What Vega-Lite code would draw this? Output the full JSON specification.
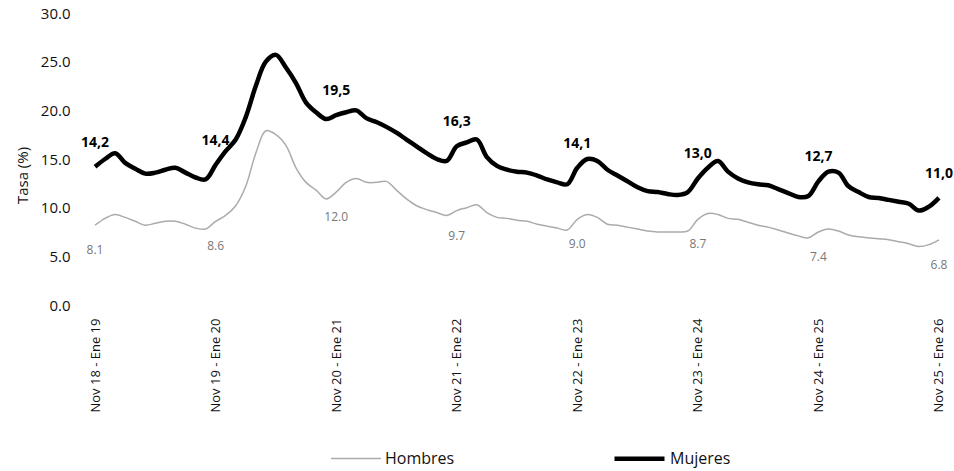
{
"$schema": "https://vega.github.io/schema/vega-lite/v6.json",
"width": 864,
"height": 292,
"autosize": {"type": "none"},
"padding": {"left": 85, "top": 13, "right": 5, "bottom": 166},
"background": "white",
"config": {"view": {"stroke": null}, "font": "Open Sans"},
"data": {"values": [
{"p":"Nov 18 - Ene 19","s":"Hombres","v":8.2,"t":"8.1"},
{"p":"Dic 18 - Feb 19","s":"Hombres","v":8.9},
{"p":"Ene 19 - Mar 19","s":"Hombres","v":9.3},
{"p":"Feb 19 - Abr 19","s":"Hombres","v":9.0},
{"p":"Mar 19 - May 19","s":"Hombres","v":8.6},
{"p":"Abr 19 - Jun 19","s":"Hombres","v":8.2},
{"p":"May 19 - Jul 19","s":"Hombres","v":8.4},
{"p":"Jun 19 - Ago 19","s":"Hombres","v":8.6},
{"p":"Jul 19 - Sep 19","s":"Hombres","v":8.6},
{"p":"Ago 19 - Oct 19","s":"Hombres","v":8.3},
{"p":"Sep 19 - Nov 19","s":"Hombres","v":7.9},
{"p":"Oct 19 - Dic 19","s":"Hombres","v":7.8},
{"p":"Nov 19 - Ene 20","s":"Hombres","v":8.6,"t":"8.6"},
{"p":"Dic 19 - Feb 20","s":"Hombres","v":9.2},
{"p":"Ene 20 - Mar 20","s":"Hombres","v":10.2},
{"p":"Feb 20 - Abr 20","s":"Hombres","v":12.2},
{"p":"Mar 20 - May 20","s":"Hombres","v":15.6},
{"p":"Abr 20 - Jun 20","s":"Hombres","v":17.9},
{"p":"May 20 - Jul 20","s":"Hombres","v":17.5},
{"p":"Jun 20 - Ago 20","s":"Hombres","v":16.4},
{"p":"Jul 20 - Sep 20","s":"Hombres","v":14.1},
{"p":"Ago 20 - Oct 20","s":"Hombres","v":12.6},
{"p":"Sep 20 - Nov 20","s":"Hombres","v":11.8},
{"p":"Oct 20 - Dic 20","s":"Hombres","v":10.9},
{"p":"Nov 20 - Ene 21","s":"Hombres","v":11.6,"t":"12.0"},
{"p":"Dic 20 - Feb 21","s":"Hombres","v":12.6},
{"p":"Ene 21 - Mar 21","s":"Hombres","v":13.0},
{"p":"Feb 21 - Abr 21","s":"Hombres","v":12.6},
{"p":"Mar 21 - May 21","s":"Hombres","v":12.6},
{"p":"Abr 21 - Jun 21","s":"Hombres","v":12.7},
{"p":"May 21 - Jul 21","s":"Hombres","v":11.8},
{"p":"Jun 21 - Ago 21","s":"Hombres","v":10.9},
{"p":"Jul 21 - Sep 21","s":"Hombres","v":10.2},
{"p":"Ago 21 - Oct 21","s":"Hombres","v":9.8},
{"p":"Sep 21 - Nov 21","s":"Hombres","v":9.5},
{"p":"Oct 21 - Dic 21","s":"Hombres","v":9.2},
{"p":"Nov 21 - Ene 22","s":"Hombres","v":9.7,"t":"9.7"},
{"p":"Dic 21 - Feb 22","s":"Hombres","v":10.0},
{"p":"Ene 22 - Mar 22","s":"Hombres","v":10.3},
{"p":"Feb 22 - Abr 22","s":"Hombres","v":9.5},
{"p":"Mar 22 - May 22","s":"Hombres","v":9.0},
{"p":"Abr 22 - Jun 22","s":"Hombres","v":8.9},
{"p":"May 22 - Jul 22","s":"Hombres","v":8.7},
{"p":"Jun 22 - Ago 22","s":"Hombres","v":8.6},
{"p":"Jul 22 - Sep 22","s":"Hombres","v":8.3},
{"p":"Ago 22 - Oct 22","s":"Hombres","v":8.1},
{"p":"Sep 22 - Nov 22","s":"Hombres","v":7.9},
{"p":"Oct 22 - Dic 22","s":"Hombres","v":7.7},
{"p":"Nov 22 - Ene 23","s":"Hombres","v":8.8,"t":"9.0"},
{"p":"Dic 22 - Feb 23","s":"Hombres","v":9.3},
{"p":"Ene 23 - Mar 23","s":"Hombres","v":9.0},
{"p":"Feb 23 - Abr 23","s":"Hombres","v":8.3},
{"p":"Mar 23 - May 23","s":"Hombres","v":8.2},
{"p":"Abr 23 - Jun 23","s":"Hombres","v":8.0},
{"p":"May 23 - Jul 23","s":"Hombres","v":7.8},
{"p":"Jun 23 - Ago 23","s":"Hombres","v":7.6},
{"p":"Jul 23 - Sep 23","s":"Hombres","v":7.5},
{"p":"Ago 23 - Oct 23","s":"Hombres","v":7.5},
{"p":"Sep 23 - Nov 23","s":"Hombres","v":7.5},
{"p":"Oct 23 - Dic 23","s":"Hombres","v":7.6},
{"p":"Nov 23 - Ene 24","s":"Hombres","v":8.8,"t":"8.7"},
{"p":"Dic 23 - Feb 24","s":"Hombres","v":9.4},
{"p":"Ene 24 - Mar 24","s":"Hombres","v":9.3},
{"p":"Feb 24 - Abr 24","s":"Hombres","v":8.9},
{"p":"Mar 24 - May 24","s":"Hombres","v":8.8},
{"p":"Abr 24 - Jun 24","s":"Hombres","v":8.5},
{"p":"May 24 - Jul 24","s":"Hombres","v":8.2},
{"p":"Jun 24 - Ago 24","s":"Hombres","v":8.0},
{"p":"Jul 24 - Sep 24","s":"Hombres","v":7.7},
{"p":"Ago 24 - Oct 24","s":"Hombres","v":7.4},
{"p":"Sep 24 - Nov 24","s":"Hombres","v":7.1},
{"p":"Oct 24 - Dic 24","s":"Hombres","v":6.9},
{"p":"Nov 24 - Ene 25","s":"Hombres","v":7.5,"t":"7.4"},
{"p":"Dic 24 - Feb 25","s":"Hombres","v":7.8},
{"p":"Ene 25 - Mar 25","s":"Hombres","v":7.6},
{"p":"Feb 25 - Abr 25","s":"Hombres","v":7.2},
{"p":"Mar 25 - May 25","s":"Hombres","v":7.0},
{"p":"Abr 25 - Jun 25","s":"Hombres","v":6.9},
{"p":"May 25 - Jul 25","s":"Hombres","v":6.8},
{"p":"Jun 25 - Ago 25","s":"Hombres","v":6.7},
{"p":"Jul 25 - Sep 25","s":"Hombres","v":6.5},
{"p":"Ago 25 - Oct 25","s":"Hombres","v":6.3},
{"p":"Sep 25 - Nov 25","s":"Hombres","v":6.0},
{"p":"Oct 25 - Dic 25","s":"Hombres","v":6.2},
{"p":"Nov 25 - Ene 26","s":"Hombres","v":6.7,"t":"6.8"},
{"p":"Nov 18 - Ene 19","s":"Mujeres","v":14.2,"t":"14,2"},
{"p":"Dic 18 - Feb 19","s":"Mujeres","v":15.0},
{"p":"Ene 19 - Mar 19","s":"Mujeres","v":15.6},
{"p":"Feb 19 - Abr 19","s":"Mujeres","v":14.6},
{"p":"Mar 19 - May 19","s":"Mujeres","v":14.0},
{"p":"Abr 19 - Jun 19","s":"Mujeres","v":13.5},
{"p":"May 19 - Jul 19","s":"Mujeres","v":13.6},
{"p":"Jun 19 - Ago 19","s":"Mujeres","v":13.9},
{"p":"Jul 19 - Sep 19","s":"Mujeres","v":14.1},
{"p":"Ago 19 - Oct 19","s":"Mujeres","v":13.6},
{"p":"Sep 19 - Nov 19","s":"Mujeres","v":13.1},
{"p":"Oct 19 - Dic 19","s":"Mujeres","v":12.9},
{"p":"Nov 19 - Ene 20","s":"Mujeres","v":14.4,"t":"14,4"},
{"p":"Dic 19 - Feb 20","s":"Mujeres","v":15.8},
{"p":"Ene 20 - Mar 20","s":"Mujeres","v":17.0},
{"p":"Feb 20 - Abr 20","s":"Mujeres","v":19.3},
{"p":"Mar 20 - May 20","s":"Mujeres","v":22.5},
{"p":"Abr 20 - Jun 20","s":"Mujeres","v":25.0},
{"p":"May 20 - Jul 20","s":"Mujeres","v":25.7},
{"p":"Jun 20 - Ago 20","s":"Mujeres","v":24.4},
{"p":"Jul 20 - Sep 20","s":"Mujeres","v":22.8},
{"p":"Ago 20 - Oct 20","s":"Mujeres","v":20.8},
{"p":"Sep 20 - Nov 20","s":"Mujeres","v":19.8},
{"p":"Oct 20 - Dic 20","s":"Mujeres","v":19.1},
{"p":"Nov 20 - Ene 21","s":"Mujeres","v":19.5,"t":"19,5"},
{"p":"Dic 20 - Feb 21","s":"Mujeres","v":19.8},
{"p":"Ene 21 - Mar 21","s":"Mujeres","v":20.0},
{"p":"Feb 21 - Abr 21","s":"Mujeres","v":19.2},
{"p":"Mar 21 - May 21","s":"Mujeres","v":18.8},
{"p":"Abr 21 - Jun 21","s":"Mujeres","v":18.3},
{"p":"May 21 - Jul 21","s":"Mujeres","v":17.7},
{"p":"Jun 21 - Ago 21","s":"Mujeres","v":17.0},
{"p":"Jul 21 - Sep 21","s":"Mujeres","v":16.3},
{"p":"Ago 21 - Oct 21","s":"Mujeres","v":15.6},
{"p":"Sep 21 - Nov 21","s":"Mujeres","v":15.0},
{"p":"Oct 21 - Dic 21","s":"Mujeres","v":14.8},
{"p":"Nov 21 - Ene 22","s":"Mujeres","v":16.3,"t":"16,3"},
{"p":"Dic 21 - Feb 22","s":"Mujeres","v":16.7},
{"p":"Ene 22 - Mar 22","s":"Mujeres","v":17.0},
{"p":"Feb 22 - Abr 22","s":"Mujeres","v":15.2},
{"p":"Mar 22 - May 22","s":"Mujeres","v":14.3},
{"p":"Abr 22 - Jun 22","s":"Mujeres","v":13.9},
{"p":"May 22 - Jul 22","s":"Mujeres","v":13.7},
{"p":"Jun 22 - Ago 22","s":"Mujeres","v":13.6},
{"p":"Jul 22 - Sep 22","s":"Mujeres","v":13.3},
{"p":"Ago 22 - Oct 22","s":"Mujeres","v":12.9},
{"p":"Sep 22 - Nov 22","s":"Mujeres","v":12.6},
{"p":"Oct 22 - Dic 22","s":"Mujeres","v":12.4},
{"p":"Nov 22 - Ene 23","s":"Mujeres","v":14.1,"t":"14,1"},
{"p":"Dic 22 - Feb 23","s":"Mujeres","v":15.0},
{"p":"Ene 23 - Mar 23","s":"Mujeres","v":14.8},
{"p":"Feb 23 - Abr 23","s":"Mujeres","v":13.9},
{"p":"Mar 23 - May 23","s":"Mujeres","v":13.3},
{"p":"Abr 23 - Jun 23","s":"Mujeres","v":12.7},
{"p":"May 23 - Jul 23","s":"Mujeres","v":12.1},
{"p":"Jun 23 - Ago 23","s":"Mujeres","v":11.7},
{"p":"Jul 23 - Sep 23","s":"Mujeres","v":11.6},
{"p":"Ago 23 - Oct 23","s":"Mujeres","v":11.4},
{"p":"Sep 23 - Nov 23","s":"Mujeres","v":11.3},
{"p":"Oct 23 - Dic 23","s":"Mujeres","v":11.6},
{"p":"Nov 23 - Ene 24","s":"Mujeres","v":13.0,"t":"13,0"},
{"p":"Dic 23 - Feb 24","s":"Mujeres","v":14.1},
{"p":"Ene 24 - Mar 24","s":"Mujeres","v":14.8},
{"p":"Feb 24 - Abr 24","s":"Mujeres","v":13.7},
{"p":"Mar 24 - May 24","s":"Mujeres","v":13.0},
{"p":"Abr 24 - Jun 24","s":"Mujeres","v":12.6},
{"p":"May 24 - Jul 24","s":"Mujeres","v":12.4},
{"p":"Jun 24 - Ago 24","s":"Mujeres","v":12.3},
{"p":"Jul 24 - Sep 24","s":"Mujeres","v":11.9},
{"p":"Ago 24 - Oct 24","s":"Mujeres","v":11.5},
{"p":"Sep 24 - Nov 24","s":"Mujeres","v":11.1},
{"p":"Oct 24 - Dic 24","s":"Mujeres","v":11.2},
{"p":"Nov 24 - Ene 25","s":"Mujeres","v":12.7,"t":"12,7"},
{"p":"Dic 24 - Feb 25","s":"Mujeres","v":13.7},
{"p":"Ene 25 - Mar 25","s":"Mujeres","v":13.6},
{"p":"Feb 25 - Abr 25","s":"Mujeres","v":12.2},
{"p":"Mar 25 - May 25","s":"Mujeres","v":11.6},
{"p":"Abr 25 - Jun 25","s":"Mujeres","v":11.1},
{"p":"May 25 - Jul 25","s":"Mujeres","v":11.0},
{"p":"Jun 25 - Ago 25","s":"Mujeres","v":10.8},
{"p":"Jul 25 - Sep 25","s":"Mujeres","v":10.6},
{"p":"Ago 25 - Oct 25","s":"Mujeres","v":10.4},
{"p":"Sep 25 - Nov 25","s":"Mujeres","v":9.7},
{"p":"Oct 25 - Dic 25","s":"Mujeres","v":10.1},
{"p":"Nov 25 - Ene 26","s":"Mujeres","v":11.0,"t":"11,0"}
]},
"encoding": {
  "x": {"field": "p", "type": "ordinal", "sort": null,
        "scale": {"type": "point", "padding": 1.2},
        "axis": {"title": null, "values": ["Nov 18 - Ene 19","Nov 19 - Ene 20","Nov 20 - Ene 21","Nov 21 - Ene 22","Nov 22 - Ene 23","Nov 23 - Ene 24","Nov 24 - Ene 25","Nov 25 - Ene 26"],
                 "labelAngle": -90, "domain": false, "ticks": false, "tickSize": 0, "grid": false,
                 "labelFontSize": 13, "labelPadding": 13, "labelColor": "#111"}},
  "y": {"field": "v", "type": "quantitative",
        "scale": {"domain": [0, 30], "nice": false, "zero": true},
        "axis": {"title": "Tasa (%)", "values": [0,5,10,15,20,25,30], "format": ".1f",
                 "grid": false, "domain": false, "ticks": false, "tickSize": 0,
                 "labelPadding": 15, "labelFontSize": 15, "labelColor": "#111",
                 "titleFontSize": 15, "titleFontWeight": "normal", "titleColor": "#111", "titlePadding": 10,
                 "titleY": 162}}
},
"layer": [
  {"mark": {"type": "line", "interpolate": "catmull-rom"},
   "encoding": {
     "color": {"field": "s", "type": "nominal",
               "scale": {"domain": ["Hombres", "Mujeres"], "range": ["#ababab", "#000000"]},
               "legend": {"title": null, "orient": "none", "legendX": 245, "legendY": 418,
                          "direction": "horizontal", "symbolType": "stroke", "symbolSize": 2500,
                          "labelFontSize": 16, "labelColor": "#111", "columnPadding": 150, "labelOffset": 3}},
     "strokeWidth": {"field": "s", "type": "nominal",
               "scale": {"domain": ["Hombres", "Mujeres"], "range": [1.5, 4.5]}}
   }},
  {"transform": [{"filter": "datum.s === 'Mujeres' && datum.t"}],
   "mark": {"type": "text", "dy": -24, "fontWeight": "bold", "fontSize": 14, "color": "#000"},
   "encoding": {"text": {"field": "t"}}},
  {"transform": [{"filter": "datum.s === 'Hombres' && datum.t"}],
   "mark": {"type": "text", "dy": 25, "fontSize": 12, "color": "#777"},
   "encoding": {"text": {"field": "t"}}}
]
}
